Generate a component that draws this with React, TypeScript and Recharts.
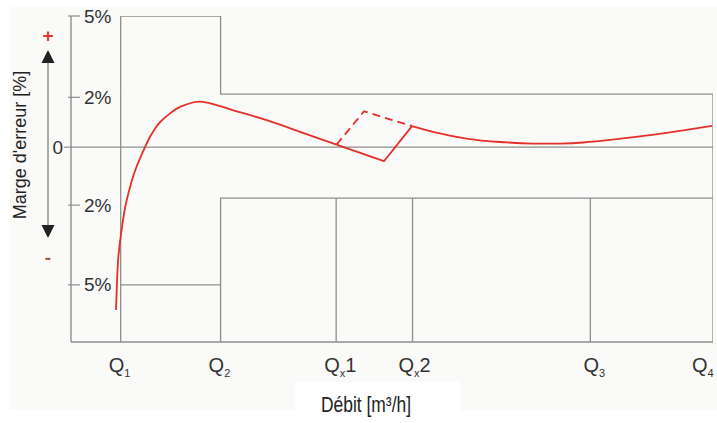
import { Line, LineChart, ReferenceLine, XAxis, YAxis } from "recharts";

// schematic axes: x is a relative flow position (0..100), y is a relative error unit
const Y_MIN = -7.5;
const Y_MAX = 5.05;

const qPos = [7.74, 23.3, 41.3, 53.2, 80.9, 100];
const qSubs = ["1", "2", "x", "x", "3", "4"];
const qSuffix = ["", "", "1", "2", "", ""];

const yTicks = [5.05, 1.92, 0, -2.23, -5.3];
const yTickLabels = ["5%", "2%", "0", "2%", "5%"];

// maximum permissible error bands
const mpeLowZone = [5.05, -5.3]; // between Q1 and Q2
const mpeHighZone = [2.04, -1.96]; // between Q2 and Q4

const curveLowFlow = [
  { x: 7.01, y: -6.27 },
  { x: 7.32, y: -4.42 },
  { x: 7.79, y: -3.35 },
  { x: 8.41, y: -2.35 },
  { x: 9.19, y: -1.54 },
  { x: 10.12, y: -0.81 },
  { x: 11.53, y: 0 },
  { x: 12.31, y: 0.4 },
  { x: 13.08, y: 0.71 },
  { x: 13.86, y: 0.96 },
  { x: 15.42, y: 1.3 },
  { x: 16.98, y: 1.55 },
  { x: 19.0, y: 1.72 },
  { x: 20.56, y: 1.74 },
  { x: 22.7, y: 1.62 },
  { x: 25.28, y: 1.42 },
  { x: 30.48, y: 1.04 },
  { x: 35.67, y: 0.59 },
  { x: 41.36, y: 0.1 },
];
const curveTransition = [
  { x: 41.36, y: 0.1 },
  { x: 48.75, y: -0.54 },
  { x: 53.12, y: 0.81 },
];
const curveTransitionAlt = [
  { x: 41.36, y: 0.1 },
  { x: 45.64, y: 1.38 },
  { x: 53.12, y: 0.81 },
];
const curveHighFlow = [
  { x: 53.12, y: 0.81 },
  { x: 56.39, y: 0.59 },
  { x: 61.64, y: 0.33 },
  { x: 66.82, y: 0.2 },
  { x: 71.96, y: 0.14 },
  { x: 76.17, y: 0.14 },
  { x: 79.75, y: 0.18 },
  { x: 85.0, y: 0.31 },
  { x: 90.19, y: 0.46 },
  { x: 95.37, y: 0.65 },
  { x: 99.84, y: 0.82 },
];

const [Q1, Q2, QX1, QX2, Q3, Q4] = qPos;

const upperEnvelope = [
  { x: Q1, y: Y_MIN },
  { x: Q1, y: mpeLowZone[0] },
  { x: Q2, y: mpeLowZone[0] },
  { x: Q2, y: mpeHighZone[0] },
  { x: Q4, y: mpeHighZone[0] },
  { x: Q4, y: Y_MIN },
];
const lowerEnvelope = [
  { x: Q1, y: mpeLowZone[1] },
  { x: Q2, y: mpeLowZone[1] },
  { x: Q2, y: Y_MIN },
  { x: Q2, y: mpeHighZone[1] },
  { x: Q4, y: mpeHighZone[1] },
];
const dividers = [QX1, QX2, Q3].map((q) => [
  { x: q, y: Y_MIN },
  { x: q, y: mpeHighZone[1] },
]);

const GRAY = "#8e8e8e";
const RED = "#e4302a";
const FONT = "'Liberation Sans', Arial, sans-serif";

function YTick({ x, y, index }: any) {
  const label = yTickLabels[index];
  const ax = x + 1;
  if (label === "0") {
    return (
      <g>
        <line x1={ax - 8} x2={ax} y1={y} y2={y} stroke={GRAY} strokeWidth={1.2} />
        <text x={ax - 9} y={y} textAnchor="end" dominantBaseline="central" fontSize={19} fontFamily={FONT} fill="#333">
          {label}
        </text>
      </g>
    );
  }
  return (
    <g>
      <line x1={ax - 4} x2={ax + 8} y1={y} y2={y} stroke={GRAY} strokeWidth={1.2} />
      <text x={ax + 12} y={y} dominantBaseline="central" fontSize={19} fontFamily={FONT} fill="#333">
        {label}
      </text>
    </g>
  );
}

function XTick({ x, y, index }: any) {
  // last label sits against the right edge, so it is pulled in
  const shift = index === 4 ? -7 : index === 5 ? -21 : index === 3 ? -14 : -12;
  return (
    <text x={x + shift} y={y + 30} fontSize={20} fontFamily={FONT} fill="#333">
      Q
      <tspan fontSize={11} dy={5}>
        {qSubs[index]}
      </tspan>
      {qSuffix[index] && <tspan dy={-5}>{qSuffix[index]}</tspan>}
    </text>
  );
}

function YTitle({ viewBox }: any) {
  const ax = viewBox.x + viewBox.width;
  const top = viewBox.y;
  const cx = ax - 23;
  return (
    <g>
      <text
        x={ax - 51}
        y={top + 129}
        transform={`rotate(-90 ${ax - 51} ${top + 129})`}
        textAnchor="middle"
        dominantBaseline="central"
        fontSize={18}
        fontFamily={FONT}
        fill="#222"
      >
        Marge d'erreur [%]
      </text>
      <line x1={cx} x2={cx} y1={top + 46} y2={top + 210} stroke="#888" strokeWidth={1.4} />
      <polygon points={`${cx},${top + 34} ${cx - 6.5},${top + 47} ${cx + 6.5},${top + 47}`} fill="#222" />
      <polygon points={`${cx},${top + 222} ${cx - 6.5},${top + 209} ${cx + 6.5},${top + 209}`} fill="#222" />
      <text x={cx} y={top + 19} textAnchor="middle" dominantBaseline="central" fontSize={19} fontWeight="bold" fontFamily={FONT} fill="#e03a2e">
        +
      </text>
      <text x={cx} y={top + 241} textAnchor="middle" dominantBaseline="central" fontSize={19} fontWeight="bold" fontFamily={FONT} fill="#a55a44">
        -
      </text>
    </g>
  );
}

function XTitle({ viewBox }: any) {
  const y0 = viewBox.y;
  return (
    <g>
      <rect x={295} y={y0 + 40} width={165} height={50} fill="#ffffff" />
      <text
        x={366}
        y={y0 + 70}
        textAnchor="middle"
        fontSize={22}
        textLength={90}
        lengthAdjust="spacingAndGlyphs"
        fontFamily="'Liberation Sans Narrow', 'Liberation Sans', sans-serif"
        fill="#222"
      >
        Débit [m³/h]
      </text>
    </g>
  );
}

export default function App() {
  return (
    <div style={{ position: "fixed", left: 0, top: 0, width: 717, height: 423, background: "#ffffff" }}>
      <div style={{ position: "absolute", left: 10, top: 7, width: 707, height: 403, background: "#fafaf9" }} />
      <div style={{ position: "absolute", left: 0, top: 0 }}>
        <LineChart width={717} height={423} margin={{ top: 16, right: 4, bottom: 80, left: 70 }}>
          <XAxis
            dataKey="x"
            type="number"
            domain={[0, 100]}
            allowDataOverflow
            ticks={qPos}
            interval={0}
            height={1}
            tickSize={0}
            tickMargin={0}
            tickLine={false}
            tick={XTick}
            axisLine={{ stroke: GRAY, strokeWidth: 1.4 }}
            label={XTitle}
          />
          <YAxis
            type="number"
            domain={[Y_MIN, Y_MAX]}
            allowDataOverflow
            ticks={yTicks}
            interval={0}
            width={1}
            tickSize={0}
            tickMargin={0}
            tickLine={false}
            tick={YTick}
            axisLine={{ stroke: GRAY, strokeWidth: 1.4 }}
            label={YTitle}
          />
          <ReferenceLine y={0} stroke={GRAY} strokeWidth={1.2} />
          <Line data={upperEnvelope} dataKey="y" type="linear" stroke={GRAY} strokeWidth={1.3} dot={false} activeDot={false} isAnimationActive={false} />
          <Line data={lowerEnvelope} dataKey="y" type="linear" stroke={GRAY} strokeWidth={1.3} dot={false} activeDot={false} isAnimationActive={false} />
          {dividers.map((d, i) => (
            <Line key={i} data={d} dataKey="y" type="linear" stroke={GRAY} strokeWidth={1.3} dot={false} activeDot={false} isAnimationActive={false} />
          ))}
          <Line data={curveLowFlow} dataKey="y" type="natural" stroke={RED} strokeWidth={1.8} dot={false} activeDot={false} isAnimationActive={false} />
          <Line data={curveTransition} dataKey="y" type="linear" stroke={RED} strokeWidth={1.8} dot={false} activeDot={false} isAnimationActive={false} />
          <Line data={curveTransitionAlt} dataKey="y" type="linear" stroke={RED} strokeWidth={1.8} strokeDasharray="8 5" dot={false} activeDot={false} isAnimationActive={false} />
          <Line data={curveHighFlow} dataKey="y" type="natural" stroke={RED} strokeWidth={1.8} dot={false} activeDot={false} isAnimationActive={false} />
        </LineChart>
      </div>
    </div>
  );
}
